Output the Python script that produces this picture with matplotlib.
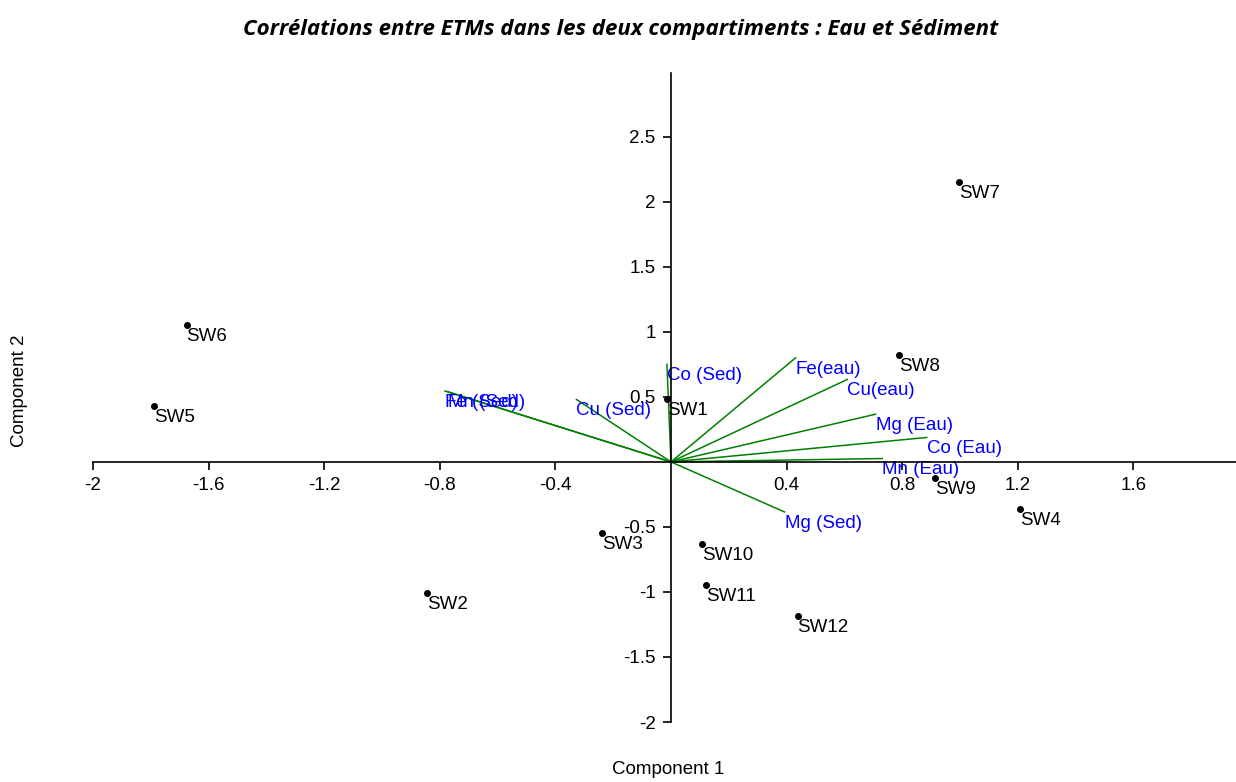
import matplotlib
matplotlib.use('Agg')
import matplotlib.pyplot as plt
from matplotlib.ticker import FixedLocator, FuncFormatter

plt.rcParams['font.family'] = ['Liberation Sans', 'DejaVu Sans']
plt.rcParams['axes.unicode_minus'] = False

# scores of the sampling stations on the first two components
stations = ['SW1', 'SW2', 'SW3', 'SW4', 'SW5', 'SW6',
            'SW7', 'SW8', 'SW9', 'SW10', 'SW11', 'SW12']
comp1 = [-0.014, -0.845, -0.238, 1.207, -1.79, -1.676,
         0.997, 0.79, 0.914, 0.107, 0.121, 0.438]
comp2 = [0.48, -1.01, -0.546, -0.36, 0.43, 1.054,
         2.154, 0.823, -0.123, -0.63, -0.946, -1.185]

# loadings of the trace elements (water and sediment)
elements = ['Fe(eau)', 'Cu(eau)', 'Mg (Eau)', 'Co (Eau)', 'Mn (Eau)',
            'Mg (Sed)', 'Co (Sed)', 'Cu (Sed)', 'Fe (Sed)', 'Mn (Sed)']
load1 = [0.431, 0.61, 0.708, 0.885, 0.731, 0.393, -0.014, -0.327, -0.782, -0.772]
load2 = [0.80, 0.634, 0.367, 0.188, 0.026, -0.385, 0.75, 0.48, 0.545, 0.54]

xticks = [-2, -1.6, -1.2, -0.8, -0.4, 0.4, 0.8, 1.2, 1.6]
yticks = [-2, -1.5, -1, -0.5, 0.5, 1, 1.5, 2, 2.5]

fs = 13.5

fig = plt.figure(figsize=(12.36, 7.82), dpi=100)
ax = fig.add_axes([0.0752, 0.0767, 0.9248, 0.8299])

for name, lx, ly in zip(elements, load1, load2):
    ax.plot([0, lx], [0, ly], color='#008000', lw=1.1, zorder=1)
    ax.annotate(name, (lx, ly), xytext=(0, -2), textcoords='offset points',
                ha='left', va='top', color='#0000ff', fontsize=fs, zorder=2)

ax.plot(comp1, comp2, 'o', color='black', ms=4, zorder=3)
for name, px, py in zip(stations, comp1, comp2):
    ax.annotate(name, (px, py), xytext=(0, -2), textcoords='offset points',
                ha='left', va='top', color='black', fontsize=fs, zorder=2)

ax.set_xlim(-2, 1.955)
ax.set_ylim(-2, 2.99)

ax.spines['left'].set_position(('data', 0))
ax.spines['bottom'].set_position(('data', 0))
ax.spines['top'].set_visible(False)
ax.spines['right'].set_visible(False)
for s in ('left', 'bottom'):
    ax.spines[s].set_linewidth(1.2)

fmt = FuncFormatter(lambda v, p: ('%g' % v))
ax.xaxis.set_major_locator(FixedLocator(xticks))
ax.yaxis.set_major_locator(FixedLocator(yticks))
ax.xaxis.set_major_formatter(fmt)
ax.yaxis.set_major_formatter(fmt)
ax.tick_params(direction='out', length=6, width=1.2, labelsize=fs, pad=5)

fig.text(0.541, 0.005, 'Component 1', ha='center', va='bottom', fontsize=fs)
fig.text(0.016, 0.50, 'Component 2', ha='center', va='center',
         rotation=90, fontsize=fs)

fig.text(0.502, 0.962,
         'Corrélations entre ETMs dans les deux compartiments : Eau et Sédiment',
         ha='center', va='center', fontsize=16, fontweight='bold',
         fontstyle='italic', family=['Open Sans', 'DejaVu Sans'])

fig.savefig('out.png', dpi=100)
